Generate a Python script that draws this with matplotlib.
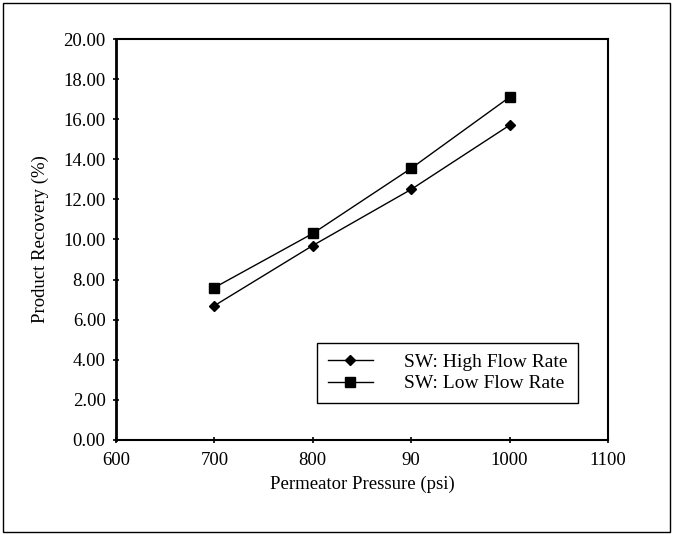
import matplotlib.pyplot as plt
from matplotlib.patches import Rectangle

plt.rcParams['font.family'] = ['Liberation Serif', 'DejaVu Serif']

pressure = [700, 800, 900, 1000]
high_flow = [6.7, 9.7, 12.5, 15.7]
low_flow = [7.6, 10.3, 13.55, 17.1]

x_ticks = [600, 700, 800, 900, 1000, 1100]
x_tick_labels = ["600", "700", "800", "90", "1000", "1100"]
y_ticks = [0, 2, 4, 6, 8, 10, 12, 14, 16, 18, 20]

fig = plt.figure(figsize=(6.73, 5.35), dpi=100)
ax = fig.add_axes([0.1724, 0.1776, 0.731, 0.7495])

ax.plot(pressure, high_flow, color='black', linewidth=1.0, marker='D',
        markersize=5.5, label="SW: High Flow Rate")
ax.plot(pressure, low_flow, color='black', linewidth=1.0, marker='s',
        markersize=7, label="SW: Low Flow Rate")

ax.set_xlim(600, 1100)
ax.set_ylim(0, 20)
ax.set_xticks(x_ticks)
ax.set_xticklabels(x_tick_labels)
ax.set_yticks(y_ticks)
ax.set_yticklabels([f"{v:.2f}" for v in y_ticks])
ax.tick_params(axis='both', labelsize=13.5, direction='inout', length=5, width=1.2)
ax.tick_params(axis='x', pad=6)
ax.tick_params(axis='y', pad=5)

for side in ['left', 'bottom', 'right', 'top']:
    ax.spines[side].set_linewidth(1.5)
ax.spines['left'].set_linewidth(2.0)

ax.set_xlabel("Permeator Pressure (psi)", fontsize=13.5, labelpad=5)
ax.set_ylabel("Product Recovery (%)", fontsize=13.5, labelpad=10)

leg = ax.legend(loc='lower right', bbox_to_anchor=(0.939, 0.092), borderaxespad=0,
                fontsize=14, fancybox=False, edgecolor='black', framealpha=1,
                handlelength=2.3, handletextpad=1.6, borderpad=0.55,
                labelspacing=0.2)
leg.get_frame().set_linewidth(1.0)

# outer frame around the whole picture
fig.patches.append(Rectangle((0.005, 0.006), 0.99, 0.988, transform=fig.transFigure,
                             fill=False, edgecolor='black', linewidth=1.0))

fig.savefig("out.png", dpi=100)
